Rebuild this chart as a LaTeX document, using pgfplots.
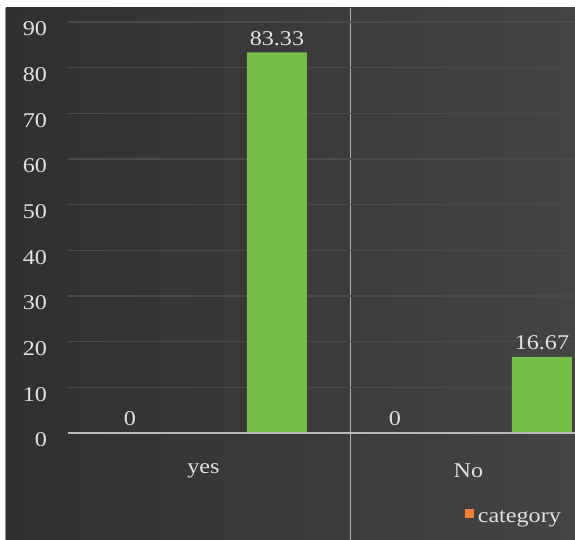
\documentclass[border=0pt]{standalone}
\usepackage{fontspec}
\setmainfont{Liberation Serif}[FakeStretch=1.15]
\usepackage{pgfplots}
\pgfplotsset{compat=1.18}
\definecolor{bgL}{RGB}{48,48,48}
\definecolor{bgR}{RGB}{68,68,68}
\definecolor{gridc}{RGB}{74,74,74}
\definecolor{barg}{RGB}{120,190,70}
\definecolor{baro}{RGB}{240,128,58}
\definecolor{axc}{RGB}{185,185,185}
\definecolor{txt}{RGB}{225,225,225}
\begin{document}
\begin{tikzpicture}[x=0.5pt,y=0.5pt]
\useasboundingbox (0,0) rectangle (575,540);
\fill[white] (0,0) rectangle (575,540);
\shade[left color=bgL,right color=bgR] (6,0) rectangle (575,532);
\draw[black!45, line width=0.5pt] (6,0) -- (6,532);
\draw[black!30, line width=0.5pt] (351,0) -- (351,532);
\begin{axis}[
  at={(34pt,53.5pt)}, anchor=south west,
  scale only axis, width=253.5pt, height=205.5pt,
  xmin=-0.511, xmax=1.402, ymin=0, ymax=90,
  ytick={0,10,...,90}, yticklabels={0,10,20,30,40,50,60,70,80,90},
  xtick={0,1}, xticklabels={yes,No},
  axis line style={draw=none},
  major tick length=0pt,
  ymajorgrids, grid style={gridc, line width=0.6pt},
  ticklabel style={font=\fontsize{10.5}{12}\selectfont, text=txt},
  yticklabel style={xshift=-7pt, yshift=-3.5pt},
  xticklabel style={yshift=-12pt},
  ybar, bar width=30pt,
  point meta=explicit symbolic,
  nodes near coords,
  nodes near coords style={text=txt, font=\fontsize{10.5}{12}\selectfont},
  clip=false,
  legend style={at={(0.77,-0.207)}, anchor=west, draw=none, fill=none,
    text=txt, font=\fontsize{10.5}{12}\selectfont},
  legend image code/.code={\fill[#1] (0pt,0pt) rectangle (4.5pt,4.5pt);},
]
\addplot[fill=baro, draw=none, bar shift=-36.75pt] coordinates {(0,0) [0] (1,0) [0]};
\addlegendentry{category}
\addplot[fill=barg, draw=none, bar shift=36.75pt, forget plot] coordinates {(0,83.33) [83.33] (1,16.67) [16.67]};
\draw[axc, line width=1.2pt] (axis cs:-0.511,0) -- (axis cs:1.402,0);
\end{axis}
\end{tikzpicture}
\end{document}
